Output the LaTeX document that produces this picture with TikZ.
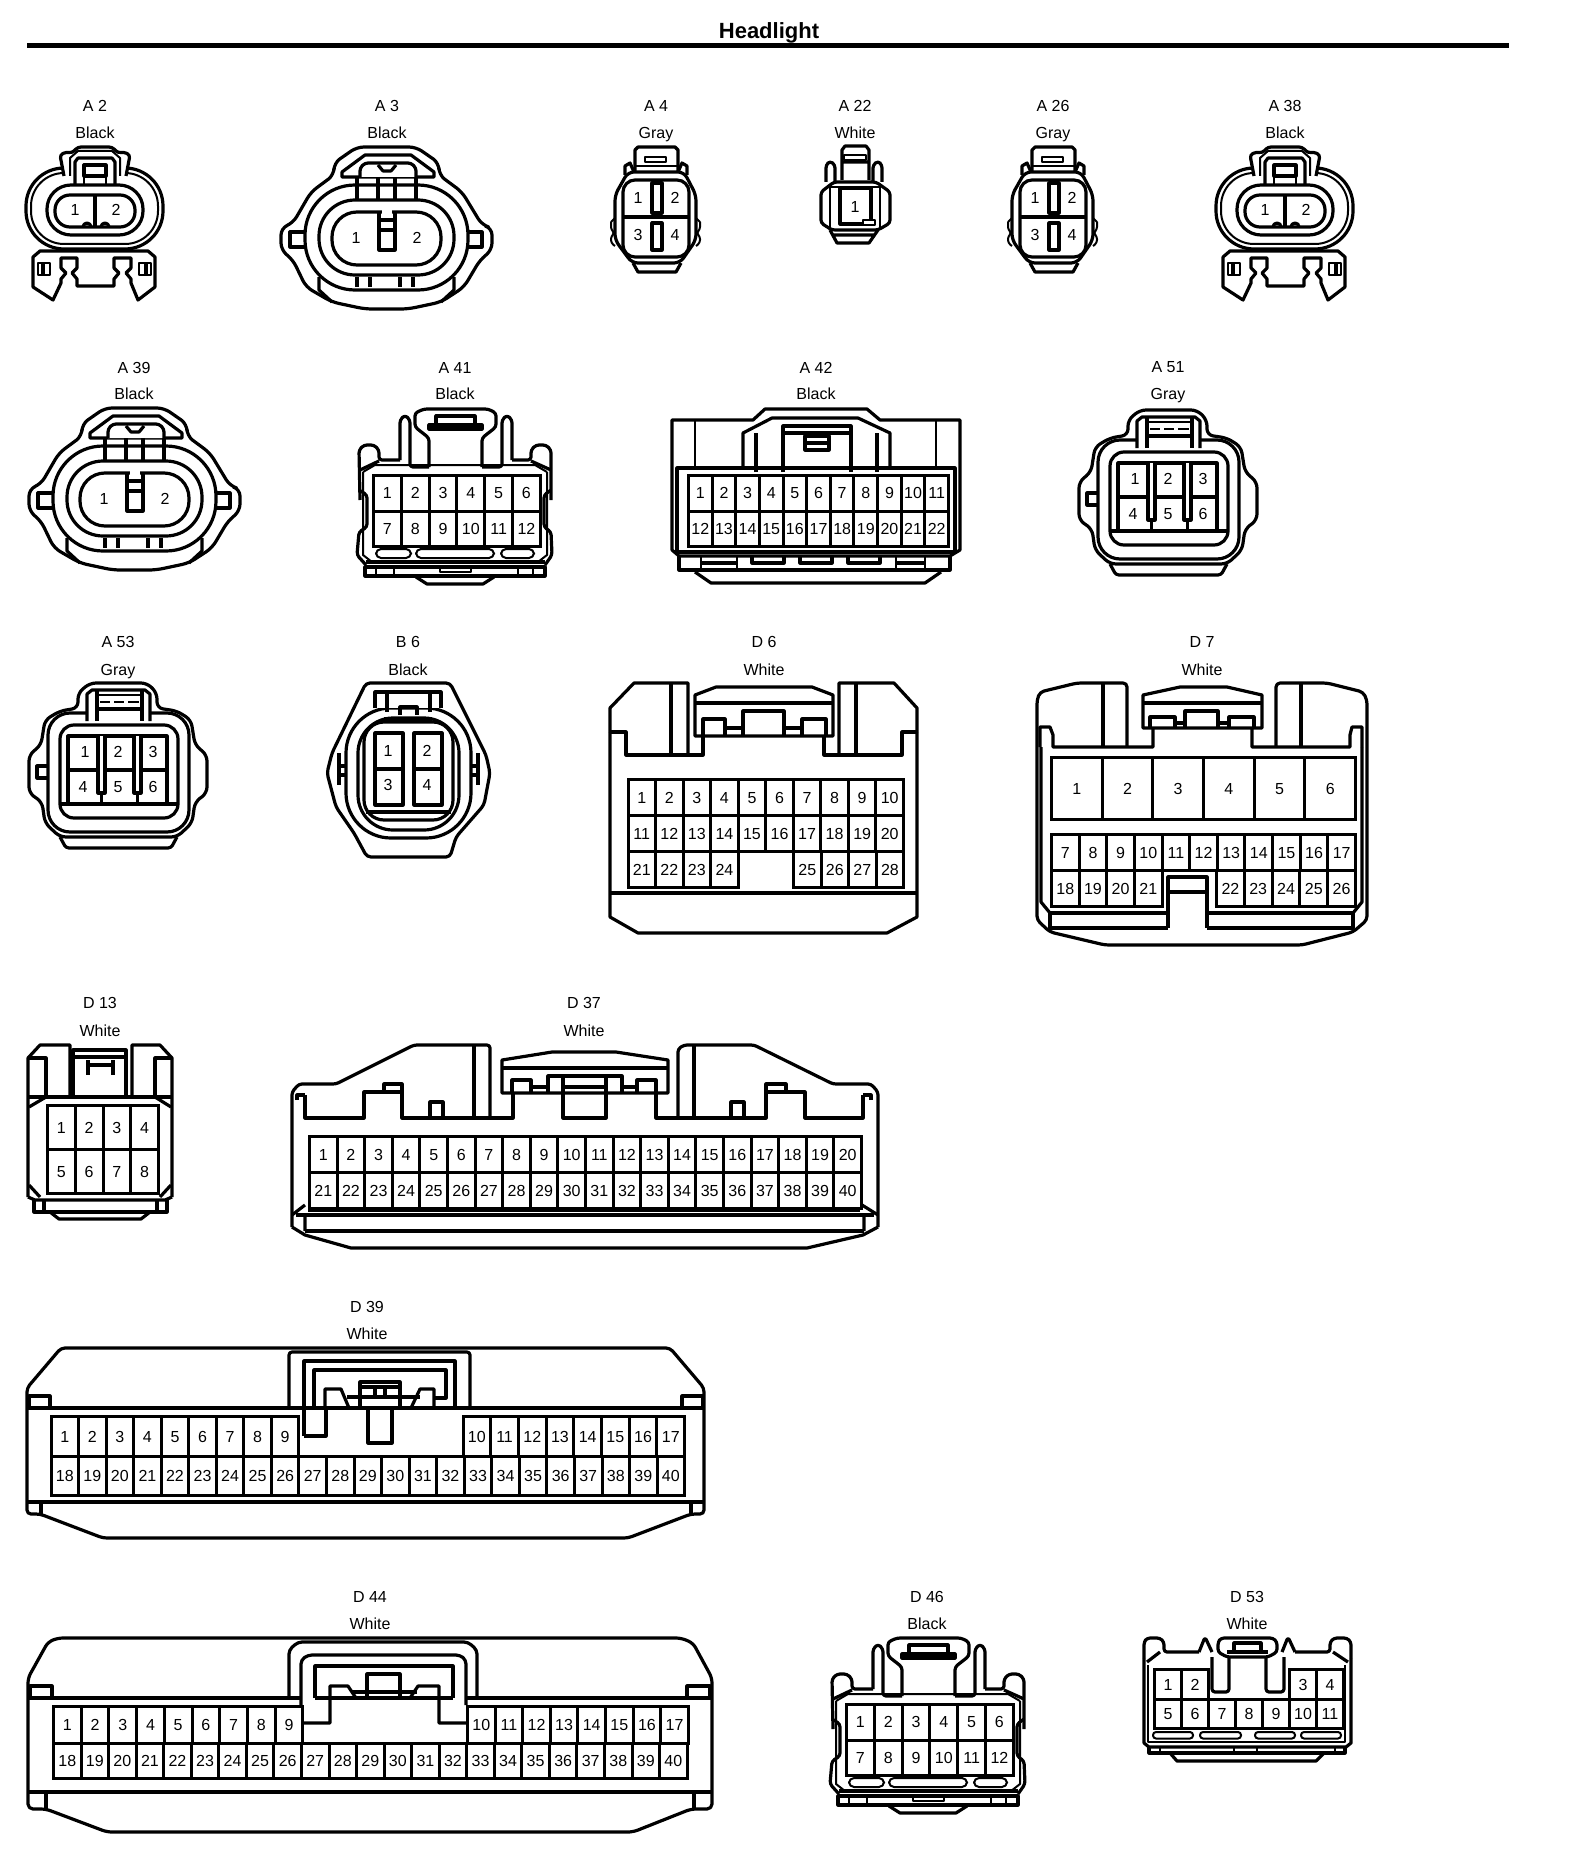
\documentclass[tikz,border=0pt]{standalone}
\usepackage{fontspec}
\setmainfont{Liberation Sans}
\tikzstyle{conn}=[line width=3.2pt, line join=round]
\tikzstyle{fine}=[line width=2pt, line join=round]
\tikzstyle{pinnum}=[inner sep=0pt, text height=11.6pt, text depth=0.3pt, font=\fontsize{16}{18}\selectfont]
\tikzstyle{pincell}=[pinnum, draw, line width=3pt, anchor=north west]
\tikzstyle{tag}=[inner sep=0pt, text height=15pt, text depth=3.4pt, font=\fontsize{16}{18}\selectfont]

% name, x, y, cell width, cell height, first, last
\newcommand{\pinrow}[7]{
  \foreach \n [count=\cnt from 0] in {#6,...,#7} {
    \node[pincell, minimum width=#4pt, minimum height=#5pt] (#1-\n) at ({#2+\cnt*#4},#3) {\n};
  }
}
% name, x, y1, y2, id, colour
\newcommand{\conntag}[6]{
  \node[tag] (#1id) at (#2,#3) {#5};
  \node[tag] (#1col) at (#2,#4) {#6};
}

% A 2 and A 38
\newcommand{\clipoval}[2]{
  \begin{scope}[xshift=#2pt]
    \draw[conn] (26,168) [rounded corners=38pt] rectangle (163,249);
    \draw[fine] (31,173) [rounded corners=33pt] rectangle (158,244);
    \draw[conn, fill=white, rounded corners=3pt] (64,176) -- (60,155) -- (66,152) -- (72,153) -- (78,147)
      -- (112,147) -- (118,153) -- (124,152) -- (130,155) -- (126,176);
    \draw[fine] (70,176) -- (70,158) -- (78,151) -- (112,151) -- (120,158) -- (120,176);
    \draw[conn] (75,185) -- (75,162) -- (78,158) -- (112,158) -- (115,162) -- (115,185);
    \draw[conn] (84,165) rectangle (106,176);
    \draw[fine] (84,176) -- (84,185) (106,176) -- (106,185);
    \draw[conn] (47,185) [rounded corners=24pt] rectangle (143,235);
    \draw[conn] (55,195) [rounded corners=15pt] rectangle (135,227);
    \draw[conn] (95,195) -- (95,227);
    \draw[conn] (83,227) arc (180:360:4) (101,227) arc (180:360:4);
    \node[pinnum] (#1-1) at (75,210) {1};
    \node[pinnum] (#1-2) at (116,210) {2};
    \draw[conn, fill=white] (33,257) -- (40,251) -- (148,251) -- (155,257) -- (155,287) -- (138,300)
      -- (131,283) -- (131,279) -- (126,273) -- (131,268) -- (131,258) -- (114,258) -- (114,268) -- (119,273)
      -- (114,279) -- (114,286) -- (77,286) -- (77,279) -- (72,273) -- (77,268) -- (77,258) -- (61,258)
      -- (61,268) -- (66,273) -- (61,279) -- (61,283) -- (53,300) -- (33,287) -- cycle;
    \draw[fine] (38,263) rectangle (50,275) (151,263) rectangle (139,275);
    \draw[conn] (43,263) -- (43,275) (146,263) -- (146,275);
  \end{scope}
}
% A 3 and A 39
\newcommand{\ovalbig}[3]{
  \begin{scope}[xshift=#2pt, yshift=-#3pt]
    \draw[conn, rounded corners=7pt] (357,147) -- (416,147) -- (439,163) -- (439,175) -- (462,192) -- (482,225)
      -- (492,228) -- (492,250) -- (480,260) -- (464,287) -- (441,302) -- (408,309) -- (365,309)
      -- (332,302) -- (306,287) -- (293,260) -- (281,250) -- (281,228) -- (293,223) -- (311,192)
      -- (334,175) -- (334,163) -- cycle;
    \draw[conn] (305,185) [rounded corners=50pt] rectangle (468,290);
    \draw[conn] (319,200) [rounded corners=36pt] rectangle (454,275);
    \draw[conn] (332,212) [rounded corners=25pt] rectangle (441,265);
    \draw[conn, fill=white] (342,172) -- (365,155) -- (411,155) -- (434,172) -- (434,177) -- (342,177) -- cycle;
    \draw[conn, fill=white, rounded corners=3pt] (360,177) -- (360,168) -- (365,163) -- (411,163) -- (416,168) -- (416,177);
    \draw[conn] (378,165) -- (383,171) -- (391,171) -- (396,165);
    \draw[conn] (357,177) -- (357,200) (378,177) -- (378,200) (395,177) -- (395,200) (416,177) -- (416,200);
    \draw[line width=5pt, white] (382,212) -- (392,212);
    \draw[conn] (379,212) -- (379,250) -- (395,250) -- (395,212) (379,220) -- (395,220) (379,230) -- (395,230);
    \draw[conn] (304,232) -- (290,232) -- (290,247) -- (304,247);
    \draw[conn] (469,232) -- (482,232) -- (482,247) -- (469,247);
    \draw[conn] (319,277) -- (319,290) -- (332,302) (454,277) -- (454,290) -- (441,302);
    \draw[conn] (357,277) -- (357,287) (413,277) -- (413,287) (370,277) -- (370,287) (400,277) -- (400,287);
    \node[pinnum] (#1-1) at (356,238) {1};
    \node[pinnum] (#1-2) at (417,238) {2};
  \end{scope}
}
% A 4 and A 26
\newcommand{\squarefour}[2]{
  \begin{scope}[xshift=#2pt]
    \draw[conn] (635,172) -- (635,150) -- (638,147) -- (675,147) -- (678,150) -- (678,172);
    \draw[fine] (645,157) rectangle (666,162) (635,166) -- (678,166);
    \draw[conn] (625,175) -- (625,166) -- (630,163) -- (634,172) (687,175) -- (687,166) -- (682,163) -- (678,172);
    \draw[conn, rounded corners=6pt] (628,172) -- (684,172) -- (696,195) -- (696,240) -- (680,263) -- (632,263)
      -- (615,240) -- (615,195) -- cycle;
    \draw[fine, rounded corners=3pt] (611,222) -- (615,218) (611,222) -- (611,230) -- (615,233) -- (611,236) -- (611,243) -- (615,246);
    \draw[fine, rounded corners=3pt] (700,222) -- (696,218) (700,222) -- (700,230) -- (696,233) -- (700,236) -- (700,243) -- (696,246);
    \draw[conn] (623,180) [rounded corners=12pt] rectangle (689,257);
    \draw[conn] (623,217) -- (689,217);
    \draw[conn] (652,183) rectangle (662,213) (652,223) rectangle (662,250);
    \draw[conn] (633,263) -- (638,272) -- (676,272) -- (681,263);
    \node[pinnum] (#1-1) at (638,198) {1};
    \node[pinnum] (#1-2) at (675,198) {2};
    \node[pinnum] (#1-3) at (638,235) {3};
    \node[pinnum] (#1-4) at (675,235) {4};
  \end{scope}
}
% A 41 and D 46
\newcommand{\lockwide}[3]{
  \begin{scope}[xshift=#2pt, yshift=-#3pt]
    \draw[conn, rounded corners=3pt] (429,467) -- (429,438) -- (415,427) -- (415,413) -- (424,409) -- (488,409)
      -- (496,413) -- (496,427) -- (482,438) -- (482,467);
    \draw[conn] (436,425) -- (436,416) -- (475,416) -- (475,425) (429,425) rectangle (482,429);
    \draw[conn, rounded corners=3pt] (400,460) -- (400,420) -- (405,415) -- (410,420) -- (410,467) -- (429,467);
    \draw[conn, rounded corners=3pt] (482,467) -- (502,467) -- (502,420) -- (507,415) -- (512,420) -- (512,460);
    \draw[conn, rounded corners=3pt] (360,500) -- (359,450) -- (364,445) -- (374,445) -- (379,450) -- (379,460) -- (400,460);
    \draw[conn, rounded corners=3pt] (512,460) -- (531,460) -- (531,450) -- (536,445) -- (546,445) -- (551,450) -- (551,500);
    \draw[conn] (360,470) -- (379,461) (551,470) -- (531,461);
    \draw[fine] (363,472) -- (375,465) -- (535,465) -- (547,472);
    \draw[fine] (363,472) -- (363,555) -- (372,562) (547,472) -- (547,555) -- (538,562);
    \draw[conn, rounded corners=3pt] (359,490) -- (367,495) -- (367,527) -- (359,532) -- (357,555) -- (366,565);
    \draw[conn, rounded corners=3pt] (551,490) -- (544,495) -- (544,527) -- (551,532) -- (552,555) -- (545,565);
    \pinrow{#1}{372}{474}{27.8}{35.5}{1}{6}
    \pinrow{#1}{372}{509.5}{27.8}{35.5}{7}{12}
    \draw[fine] (376,549) [rounded corners=5pt] rectangle (411,558);
    \draw[fine] (416,549) [rounded corners=5pt] rectangle (494,558);
    \draw[fine] (501,549) [rounded corners=5pt] rectangle (534,558);
    \draw[conn] (366,562) -- (545,562);
    \draw[conn] (365,567) -- (365,576) -- (545,576) -- (545,567) -- cycle;
    \draw[fine] (376,567) -- (376,576) (394,567) -- (394,576) (518,567) -- (518,576) (533,567) -- (533,576);
    \draw[fine] (440,568) rectangle (471,572);
    \draw[conn] (416,577) -- (427,584) -- (483,584) -- (494,577);
  \end{scope}
}
% A 53 and A 51
\newcommand{\hexsix}[3]{
  \begin{scope}[xshift=#2pt, yshift=-#3pt]
    \draw[conn, rounded corners=6pt] (78,708) -- (78,693) -- (90,683) -- (147,683) -- (157,693) -- (157,708)
      -- (177,711) -- (191,720) -- (195,745) -- (207,755) -- (207,793) -- (195,802) -- (192,823) -- (177,837)
      -- (60,837) -- (45,823) -- (42,802) -- (29,793) -- (29,755) -- (41,745) -- (45,720) -- (60,711) -- cycle;
    \draw[conn] (48,713) [rounded corners=22pt] rectangle (189,832);
    \draw[conn] (60,725) [rounded corners=14pt] rectangle (178,818);
    \draw[conn, fill=white] (87,721) -- (87,694) -- (92,690) -- (145,690) -- (150,694) -- (150,721);
    \draw[conn] (97,691) -- (97,721) (142,691) -- (142,721);
    \draw[fine] (97,695) -- (142,695) (100,702) -- (110,702) (114,702) -- (124,702) (128,702) -- (139,702);
    \draw[conn] (97,709) -- (142,709);
    \draw[conn] (48,766) -- (37,766) -- (37,778) -- (48,778);
    \draw[conn] (60,804) -- (178,804);
    \draw[conn] (68,736) rectangle (167,804) (68,770) -- (167,770);
    \draw[conn, fill=white] (98,736) -- (98,793) -- (105,793) -- (105,736);
    \draw[conn, fill=white] (134,736) -- (134,793) -- (141,793) -- (141,736);
    \draw[conn] (101.5,793) -- (101.5,804) (137.5,793) -- (137.5,804);
    \node[pinnum] (#1-1) at (85,752) {1};
    \node[pinnum] (#1-2) at (118,752) {2};
    \node[pinnum] (#1-3) at (153,752) {3};
    \node[pinnum] (#1-4) at (83,787) {4};
    \node[pinnum] (#1-5) at (118,787) {5};
    \node[pinnum] (#1-6) at (153,787) {6};
    \draw[conn, rounded corners=3pt] (60,837) -- (66,848) -- (171,848) -- (177,837);
  \end{scope}
}

\begin{document}
\begin{tikzpicture}[x=1pt, y=-1pt]
  \fill[white] (0,0) rectangle (1568,1870);
  \useasboundingbox (0,0) rectangle (1568,1870);

  \node[inner sep=0pt, font=\bfseries\fontsize{22}{24}\selectfont] (title) at (769,33) {Headlight};
  \coordinate (ruleL) at (27,45.5);
  \coordinate (ruleR) at (1509,45.5);
  \draw[line width=5pt] (ruleL) -- (ruleR);

  % first row
  \conntag{A2}{95}{106}{133}{A 2}{Black}
  \conntag{A3}{387}{106}{133}{A 3}{Black}
  \conntag{A4}{656}{106}{133}{A 4}{Gray}
  \conntag{A22}{855}{106}{133}{A 22}{White}
  \conntag{A26}{1053}{106}{133}{A 26}{Gray}
  \conntag{A38}{1285}{106}{133}{A 38}{Black}
  \clipoval{A2}{0}
  \ovalbig{A3}{0}{0}
  \squarefour{A4}{0}
  \squarefour{A26}{397}
  \clipoval{A38}{1190}

  \draw[fine] (844,155) rectangle (866,160);
  \draw[conn] (842,180) -- (842,150) -- (845,146) -- (866,146) -- (869,150) -- (869,180) (842,162) -- (869,162);
  \draw[conn, rounded corners=3pt] (826,182) -- (826,165) -- (830,161) -- (835,165) -- (835,182);
  \draw[conn, rounded corners=3pt] (873,182) -- (873,165) -- (878,161) -- (882,165) -- (882,182);
  \draw[conn, rounded corners=3pt] (821,223) -- (821,192) -- (834,182) -- (876,182) -- (890,192) -- (890,223)
    -- (878,230) -- (832,230) -- cycle;
  \draw[fine] (830,230) -- (830,187) -- (880,187) -- (880,228);
  \draw[conn] (840,188) rectangle (871,224);
  \draw[fine, fill=white] (863,220) rectangle (875,225);
  \node[pinnum] (A22-1) at (855,207) {1};
  \draw[conn] (830,230) -- (837,243) -- (869,243) -- (878,230) (833,235) -- (875,235);

  % second row
  \conntag{A39}{134}{368}{394}{A 39}{Black}
  \conntag{A41}{455}{368}{394}{A 41}{Black}
  \conntag{A42}{816}{368}{394}{A 42}{Black}
  \conntag{A51}{1168}{367}{394}{A 51}{Gray}
  \ovalbig{A39}{-252}{261}
  \lockwide{A41}{0}{0}
  \hexsix{A51}{1050}{-273}

  \draw[conn] (672,420) -- (753,420) -- (765,409) -- (867,409) -- (880,420) -- (960,420) -- (960,550) -- (950,556)
    -- (679,556) -- (672,550) -- cycle;
  \draw[fine] (695,420) -- (695,467) (936,420) -- (936,467);
  \draw[conn] (743,467) -- (743,433) -- (772,418) -- (858,418) -- (890,433) -- (890,467);
  \draw[conn] (756,472) -- (756,433) (877,472) -- (877,433);
  \draw[conn] (783,472) -- (783,426) -- (851,426) -- (851,472) (783,433) -- (851,433);
  \draw[conn] (805,436) rectangle (829,450) (805,443) -- (829,443);
  \draw[conn] (677,468) rectangle (955,552);
  \pinrow{A42}{687}{474}{23.64}{35.5}{1}{11}
  \pinrow{A42}{687}{509.5}{23.64}{35.5}{12}{22}
  \draw[conn] (679,556) -- (679,570) -- (950,570) -- (950,556);
  \draw[fine] (701,556) -- (701,570) (737,556) -- (737,570) (896,556) -- (896,570) (925,556) -- (925,570);
  \draw[conn] (701,563) -- (737,563) (896,563) -- (925,563);
  \draw[conn] (752,556) -- (752,563) -- (784,563) -- (784,556);
  \draw[conn] (800,556) -- (800,563) -- (832,563) -- (832,556);
  \draw[conn] (848,556) -- (848,563) -- (880,563) -- (880,556);
  \draw[conn] (695,572) -- (711,583) -- (925,583) -- (941,572);

  % third row
  \conntag{A53}{118}{642}{670}{A 53}{Gray}
  \conntag{B6}{408}{642}{670}{B 6}{Black}
  \conntag{D6}{764}{642}{670}{D 6}{White}
  \conntag{D7}{1202}{642}{670}{D 7}{White}
  \hexsix{A53}{0}{0}

  \draw[conn, rounded corners=4pt] (366,683) -- (450,683) -- (486,755) -- (490,773) -- (484,805) -- (456,837)
    -- (450,857) -- (367,857) -- (354,833) -- (336,807) -- (327,773) -- (332,753) -- cycle;
  \draw[conn] (346,708) [rounded corners=45pt] rectangle (471,838);
  \draw[conn] (358,718) [rounded corners=35pt] rectangle (459,830);
  \draw[conn] (364,722) [rounded corners=20pt] rectangle (453,820);
  \draw[conn, fill=white] (375,708) -- (375,692) -- (441,692) -- (441,708);
  \draw[conn] (387,692) -- (387,712) (430,692) -- (430,712) (400,715) -- (400,707) -- (417,707) -- (417,715);
  \draw[conn] (384,719) -- (432,719) (366,812) -- (451,812);
  \draw[conn] (339,753) -- (339,766) -- (346,766) (339,766) -- (339,775) -- (346,775) (339,775) -- (339,785);
  \draw[conn] (478,753) -- (478,766) -- (471,766) (478,766) -- (478,775) -- (471,775) (478,775) -- (478,785);
  \draw[conn] (375,733) rectangle (403,805) (414,733) rectangle (442,805) (375,769) -- (403,769) (414,769) -- (442,769);
  \node[pinnum] (B6-1) at (388,751) {1};
  \node[pinnum] (B6-2) at (427,751) {2};
  \node[pinnum] (B6-3) at (388,785) {3};
  \node[pinnum] (B6-4) at (427,785) {4};

  \draw[conn] (610,732) -- (610,708) -- (634,683) -- (688,683) -- (688,755);
  \draw[conn] (671,683) -- (671,755) (610,732) -- (626,732) -- (626,755) -- (703,755) -- (703,736);
  \draw[conn] (695,736) -- (695,695) -- (716,687) -- (812,687) -- (833,695) -- (833,736) -- cycle;
  \draw[conn] (695,703) -- (833,703);
  \draw[conn] (703,736) -- (703,719) -- (725,719) -- (725,736) (743,736) -- (743,711) -- (784,711) -- (784,736)
    (802,736) -- (802,719) -- (826,719) -- (826,736) (725,728) -- (743,728) (784,728) -- (802,728);
  \draw[conn] (917,732) -- (917,708) -- (894,683) -- (839,683) -- (839,755);
  \draw[conn] (856,683) -- (856,755) (917,732) -- (902,732) -- (902,755) -- (824,755) -- (824,736);
  \draw[conn] (610,732) -- (610,917) -- (638,933) -- (887,933) -- (917,917) -- (917,732);
  \draw[conn] (610,893) -- (917,893);
  \pinrow{D6}{626.5}{778}{27.55}{36}{1}{10}
  \pinrow{D6}{626.5}{814}{27.55}{36}{11}{20}
  \pinrow{D6}{626.5}{850}{27.55}{36}{21}{24}
  \pinrow{D6}{792}{850}{27.55}{36}{25}{28}

  \draw[conn, rounded corners=4pt] (1127,747) -- (1127,683) -- (1077,683) -- (1040,692) -- (1037,700) -- (1037,920)
    -- (1050,932) -- (1105,945) -- (1302,945) -- (1353,932) -- (1367,920) -- (1367,700) -- (1363,692)
    -- (1327,683) -- (1276,683) -- (1276,747);
  \draw[conn] (1103,683) -- (1103,747) (1301,683) -- (1301,747);
  \draw[conn] (1040,747) -- (1040,727) -- (1050,727) -- (1053,735) -- (1053,747) -- (1153,747) -- (1153,728);
  \draw[conn] (1362,747) -- (1362,727) -- (1352,727) -- (1350,735) -- (1350,747) -- (1252,747) -- (1252,728);
  \draw[conn] (1143,728) -- (1143,695) -- (1180,687) -- (1227,687) -- (1262,695) -- (1262,728) -- cycle;
  \draw[conn] (1143,703) -- (1262,703);
  \draw[conn] (1150,728) -- (1150,717) -- (1175,717) -- (1175,728) (1185,728) -- (1185,711) -- (1218,711) -- (1218,728)
    (1229,728) -- (1229,717) -- (1254,717) -- (1254,728) (1175,723) -- (1185,723) (1218,723) -- (1229,723);
  \draw[conn] (1041,747) -- (1041,902) -- (1050,913) (1362,747) -- (1362,902) -- (1353,913);
  \pinrow{D7}{1050}{756}{50.67}{62}{1}{6}
  \pinrow{D7}{1050}{833}{27.64}{36}{7}{17}
  \pinrow{D7}{1050}{869}{27.64}{36}{18}{21}
  \pinrow{D7}{1215}{869}{27.8}{36}{22}{26}
  \draw[conn] (1168,928) -- (1168,877) -- (1207,877) -- (1207,928) (1168,892) -- (1207,892);
  \draw[conn] (1050,913) -- (1168,913) (1207,913) -- (1353,913);
  \draw[conn] (1050,913) -- (1050,928) -- (1168,928) (1353,913) -- (1353,928) -- (1207,928);

  % fourth row
  \conntag{D13}{100}{1003}{1031}{D 13}{White}
  \conntag{D37}{584}{1003}{1031}{D 37}{White}

  \draw[conn] (28,1197) -- (28,1058) -- (40,1045) -- (70,1045) -- (70,1095);
  \draw[conn] (172,1197) -- (172,1058) -- (160,1045) -- (132,1045) -- (132,1095);
  \draw[conn] (28,1058) -- (46,1058) -- (46,1095) (172,1058) -- (155,1058) -- (155,1095);
  \draw[conn] (73,1095) -- (73,1050) -- (126,1050) -- (126,1095) (73,1057) -- (126,1057);
  \draw[conn] (88,1060) -- (88,1075) (113,1060) -- (113,1075) (88,1065) -- (113,1065);
  \draw[conn] (28,1097) -- (172,1097);
  \draw[conn] (29,1107) -- (46,1097) (171,1107) -- (155,1097) (29,1185) -- (40,1197) (171,1185) -- (160,1197);
  \pinrow{D13}{46}{1104}{27.75}{44}{1}{4}
  \pinrow{D13}{46}{1148}{27.75}{44}{5}{8}
  \draw[conn] (28,1197) -- (35,1200) -- (165,1200) -- (172,1197);
  \draw[conn] (34,1200) -- (34,1212) -- (167,1212) -- (167,1200);
  \draw[conn] (44,1200) -- (44,1212) (157,1200) -- (157,1212);
  \draw[conn] (50,1212) -- (59,1219) -- (141,1219) -- (150,1212);

  \draw[conn, rounded corners=3pt] (292,1227) -- (292,1092) -- (299,1084) -- (336,1084) -- (414,1045) -- (490,1045) -- (490,1117);
  \draw[conn] (474,1045) -- (474,1117);
  \draw[conn] (305,1095) -- (305,1118) -- (364,1118) -- (364,1092) -- (402,1092) -- (402,1118) -- (513,1118) -- (513,1093);
  \draw[conn] (297,1100) -- (297,1095) -- (305,1095);
  \draw[conn] (384,1092) -- (384,1084) -- (402,1084) -- (402,1092) (430,1118) -- (430,1102) -- (443,1102) -- (443,1118);
  \draw[conn] (502,1093) -- (502,1060) -- (552,1052) -- (616,1052) -- (668,1060) -- (668,1093) -- cycle;
  \draw[conn] (502,1068) -- (668,1068);
  \draw[conn] (512,1093) -- (512,1080) -- (531,1080) -- (531,1093) (548,1093) -- (548,1076) -- (622,1076) -- (622,1093)
    (637,1093) -- (637,1080) -- (656,1080) -- (656,1093) (531,1087) -- (548,1087) (622,1087) -- (637,1087) (563,1087) -- (606,1087);
  \draw[conn] (563,1076) -- (563,1118) -- (606,1118) -- (606,1076);
  \draw[conn] (656,1093) -- (656,1118) -- (766,1118) -- (766,1092) -- (805,1092) -- (805,1118) -- (863,1118) -- (863,1095);
  \draw[conn, rounded corners=3pt] (678,1118) -- (678,1049) -- (684,1045) -- (754,1045) -- (833,1084) -- (871,1084) -- (878,1092) -- (878,1227);
  \draw[conn] (694,1045) -- (694,1118);
  \draw[conn] (766,1092) -- (766,1084) -- (786,1084) -- (786,1092) (731,1118) -- (731,1102) -- (744,1102) -- (744,1118);
  \draw[conn] (871,1100) -- (871,1095) -- (863,1095);
  \pinrow{D37}{308}{1135}{27.6}{36}{1}{20}
  \pinrow{D37}{308}{1171}{27.6}{36}{21}{40}
  \draw[conn] (292,1227) -- (305,1235) -- (351,1248) -- (807,1248) -- (863,1235) -- (878,1227);
  \draw[conn] (308,1210) -- (860,1210) (296,1215) -- (874,1215) (305,1231) -- (864,1231);
  \draw[conn] (305,1215) -- (305,1231) (864,1215) -- (864,1231) (292,1215) -- (305,1205) (878,1215) -- (862,1205);

  % fifth row
  \conntag{D39}{367}{1307}{1334}{D 39}{White}

  \draw[conn, rounded corners=4pt] (27,1514) -- (27,1388) -- (61,1348) -- (670,1348) -- (704,1388) -- (704,1514) -- (691,1514)
    -- (628,1538) -- (103,1538) -- (40,1514) -- cycle;
  \draw[conn] (27,1408) -- (704,1408);
  \draw[conn] (29,1408) -- (29,1396) -- (50,1396) -- (50,1408) (682,1408) -- (682,1396) -- (703,1396) -- (703,1408);
  \draw[conn, rounded corners=3pt] (289,1408) -- (289,1352) -- (470,1352) -- (470,1408);
  \draw[conn] (304,1436) -- (304,1361) -- (455,1361) -- (455,1408);
  \draw[conn] (304,1436) -- (326,1436) -- (326,1408);
  \draw[conn] (314,1408) -- (314,1370) -- (446,1370) -- (446,1398) -- (434,1398);
  \draw[conn] (325,1408) -- (325,1389) -- (341,1389) -- (349,1408) (411,1408) -- (420,1389) -- (434,1389) -- (434,1408);
  \draw[conn] (347,1397) -- (420,1397);
  \draw[conn] (360,1408) -- (360,1382) -- (400,1382) -- (400,1408) (360,1387) -- (400,1387);
  \draw[conn] (375,1387) -- (375,1397) (385,1387) -- (385,1397);
  \draw[conn] (368,1408) -- (368,1443) -- (392,1443) -- (392,1408);
  \pinrow{D39}{49.5}{1415}{27.55}{40}{1}{9}
  \pinrow{D39}{461.5}{1415}{27.7}{40}{10}{17}
  \pinrow{D39}{49.5}{1455}{27.55}{39}{18}{40}
  \draw[conn] (27,1502) -- (704,1502);
  \draw[conn] (41,1502) -- (41,1514) (691,1502) -- (691,1514);

  % sixth row
  \conntag{D44}{370}{1597}{1624}{D 44}{White}
  \conntag{D46}{927}{1597}{1624}{D 46}{Black}
  \conntag{D53}{1247}{1597}{1624}{D 53}{White}

  \draw[conn, rounded corners=5pt] (28,1809) -- (28,1678) -- (48,1642) -- (58,1638) -- (681,1638) -- (693,1643) -- (712,1678) -- (712,1809)
    -- (691,1809) -- (633,1832) -- (107,1832) -- (46,1809) -- cycle;
  \draw[conn] (28,1698) -- (301,1698) (315,1698) -- (453,1698) (466,1698) -- (712,1698);
  \draw[conn] (30,1698) -- (30,1686) -- (52,1686) -- (52,1698) (687,1698) -- (687,1686) -- (710,1686) -- (710,1698);
  \draw[conn, rounded corners=4pt] (289,1698) -- (289,1650) -- (298,1642) -- (468,1642) -- (477,1650) -- (477,1698);
  \draw[conn, rounded corners=4pt] (301,1705) -- (301,1660) -- (308,1655) -- (460,1655) -- (466,1660) -- (466,1705);
  \draw[conn] (315,1698) -- (315,1666) -- (453,1666) -- (453,1698);
  \draw[conn] (301,1723) -- (330,1723) -- (330,1686) -- (348,1686) -- (356,1698);
  \draw[conn] (466,1723) -- (439,1723) -- (439,1686) -- (418,1686) -- (410,1698);
  \draw[conn] (367,1698) -- (367,1674) -- (400,1674) -- (400,1698) (351,1692) -- (417,1692);
  \pinrow{D44}{52}{1705}{27.7}{37}{1}{9}
  \pinrow{D44}{466}{1705}{27.6}{37}{10}{17}
  \pinrow{D44}{52}{1742}{27.55}{35}{18}{40}
  \draw[conn] (28,1792) -- (712,1792);
  \draw[conn] (46,1792) -- (46,1809) (694,1792) -- (694,1809);

  \lockwide{D46}{473}{1229}

  \draw[conn, rounded corners=3pt] (1144,1658) -- (1144,1642) -- (1147,1638) -- (1160,1638) -- (1164,1642) -- (1164,1652) -- (1199,1652);
  \draw[conn, rounded corners=3pt] (1199,1652) -- (1205,1637) -- (1212,1652);
  \draw[conn, rounded corners=3pt] (1218,1652) -- (1218,1642) -- (1221,1638) -- (1273,1638) -- (1277,1642) -- (1277,1652) -- (1268,1657) -- (1227,1657) -- cycle;
  \draw[conn] (1234,1652) -- (1234,1643) -- (1261,1643) -- (1261,1652) (1227,1652) -- (1268,1652);
  \draw[conn, rounded corners=3pt] (1212,1657) -- (1212,1692) -- (1229,1692) -- (1229,1657);
  \draw[conn, rounded corners=3pt] (1266,1657) -- (1266,1692) -- (1284,1692) -- (1284,1657);
  \draw[conn, rounded corners=3pt] (1282,1652) -- (1288,1637) -- (1295,1652);
  \draw[conn, rounded corners=3pt] (1295,1652) -- (1330,1652) -- (1330,1642) -- (1334,1638) -- (1347,1638) -- (1351,1642) -- (1351,1658);
  \draw[conn] (1147,1662) -- (1160,1652) (1348,1662) -- (1333,1652);
  \draw[conn] (1144,1658) -- (1144,1743) -- (1149,1747) -- (1346,1747) -- (1351,1743) -- (1351,1658);
  \draw[fine] (1148,1665) -- (1148,1742) -- (1345,1742) -- (1345,1665);
  \pinrow{D53}{1153}{1668}{27}{30}{1}{2}
  \pinrow{D53}{1288}{1668}{27}{30}{3}{4}
  \pinrow{D53}{1153}{1698}{27}{29}{5}{11}
  \draw[fine] (1153,1732) [rounded corners=3pt] rectangle (1193,1738.5);
  \draw[fine] (1200,1732) [rounded corners=3pt] rectangle (1241,1738.5);
  \draw[fine] (1255,1732) [rounded corners=3pt] rectangle (1295,1738.5);
  \draw[fine] (1301,1732) [rounded corners=3pt] rectangle (1341,1738.5);
  \draw[conn] (1149,1747) -- (1149,1753) -- (1345,1753) -- (1345,1747);
  \draw[fine] (1160,1747) -- (1160,1753) (1234,1747) -- (1234,1753) (1257,1747) -- (1257,1753) (1335,1747) -- (1335,1753);
  \draw[conn] (1170,1753) -- (1177,1761) -- (1316,1761) -- (1324,1753);
\end{tikzpicture}
\end{document}
